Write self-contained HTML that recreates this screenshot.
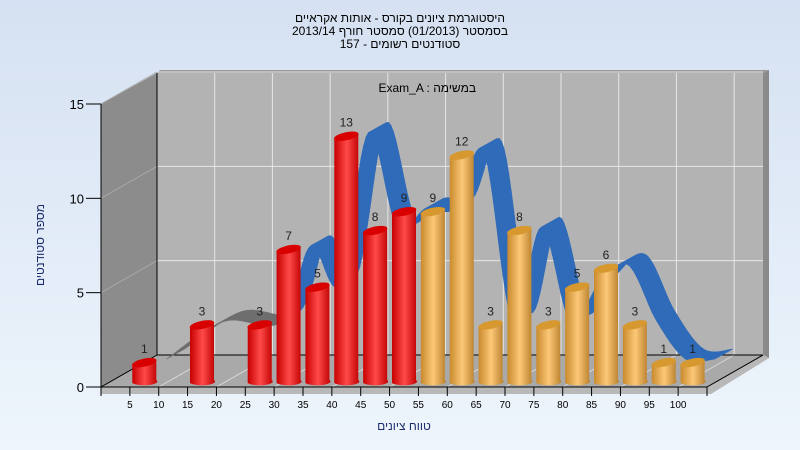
<!DOCTYPE html>
<html><head><meta charset="utf-8"><style>
body{margin:0;width:800px;height:450px;overflow:hidden;background:linear-gradient(#d5e1f2,#eef5fc);font-family:"Liberation Sans","Noto Sans CJK SC",sans-serif}
svg{display:block}
</style></head><body>
<svg id="chart" width="800" height="450">
<defs>
<linearGradient id="gr" x1="0" x2="1"><stop offset="0" stop-color="#c80000"/><stop offset="0.5" stop-color="#ff4a4a"/><stop offset="1" stop-color="#c00000"/></linearGradient>
<linearGradient id="go" x1="0" x2="1"><stop offset="0" stop-color="#c98a2c"/><stop offset="0.5" stop-color="#fcc878"/><stop offset="1" stop-color="#b9802c"/></linearGradient>
</defs>
<g font-size="12" text-anchor="middle" fill="#000">
<text x="400" y="22" direction="rtl">היסטוגרמת ציונים בקורס - אותות אקראיים</text>
<text x="400" y="35" direction="rtl">בסמסטר  (01/2013)  סמסטר חורף 2013/14</text>
<text x="400" y="48" direction="rtl">סטודנטים רשומים - 157</text>
</g>
<polygon points="763,73 769,70 769,358 763,355" fill="#8a8a8a"/>
<polygon points="157,73 160,70 769,70 763,73" fill="#9a9a9a"/>
<rect x="157" y="73" width="606" height="282" fill="#b3b3b3"/>
<polygon points="101,104 157,73 157,355 101,387" fill="#8c8c8c"/>
<polygon points="101,387 157,355 763,355 707,387" fill="#a9a9a9"/>
<polygon points="101,387 707,387 763,355 769,358 711,394 101,394" fill="#b8b8b8"/>
<g id="grid"></g>
<line x1="157" y1="73" x2="157" y2="355" stroke="#000"/>
<line x1="157" y1="355" x2="763" y2="355" stroke="#000"/>
<line x1="707" y1="387" x2="763" y2="355" stroke="#000"/>
<line x1="101" y1="387" x2="157" y2="355" stroke="#000"/>
<g id="curve"></g>
<g id="bars"></g>
<line x1="101" y1="104" x2="101" y2="387" stroke="#000"/>
<line x1="101" y1="387" x2="707" y2="387" stroke="#000"/>
<g id="axes" font-size="13" fill="#000"></g>
<text x="476" y="92" font-size="12" text-anchor="end" direction="ltr">Exam_A : במשימה</text>
<text transform="translate(44,245) rotate(-90)" font-size="12" text-anchor="middle" fill="#1a2a6a" direction="rtl">מספר סטודנטים</text>
<text x="404" y="430" font-size="12" text-anchor="middle" fill="#1a2a6a" direction="rtl">טווח ציונים</text>
</svg>
<script>
const bins=[0,5,10,15,20,25,30,35,40,45,50,55,60,65,70,75,80,85,90,95,100];
const counts=[0,1,0,3,0,3,7,5,13,8,9,9,12,3,8,3,5,6,3,1,1];
const yTicks=[0,5,10,15];
const xTickLabels=[5,10,15,20,25,30,35,40,45,50,55,60,65,70,75,80,85,90,95,100];
const passMark=55;

const NS="http://www.w3.org/2000/svg";
const X0=101,SLOT=606/21,Y0=387,YS=(387-104)/15,DX=56,DY=-32;
const xs=k=>X0+(k+0.5)*SLOT;
const ys=v=>Y0-v*YS;
function mk(tag,attrs,parent){const e=document.createElementNS(NS,tag);for(const k in attrs)e.setAttribute(k,attrs[k]);parent.appendChild(e);return e;}
const grid=document.getElementById('grid'),axes=document.getElementById('axes'),bars=document.getElementById('bars'),curve=document.getElementById('curve');
// grid
yTicks.forEach(t=>{if(t===0)return;
 const l=mk('line',{x1:157,x2:763,y1:ys(t)+DY,y2:ys(t)+DY,stroke:'#e6e6e6'},grid);
 
 
 const l2=mk('line',{x1:101,x2:157,y1:ys(t),y2:ys(t)+DY,stroke:'#a8a8a8'},grid);
 
 
});
for(let k=2;k<21;k+=2){const x=X0+k*SLOT;
 const l=mk('line',{x1:x+DX,x2:x+DX,y1:73,y2:355,stroke:'#e6e6e6'},grid);
 
 
 const f=mk('line',{x1:x,x2:x+DX,y1:Y0,y2:355,stroke:'#d8d8d8'},grid);
 
 
}
// y axis
yTicks.forEach(t=>{
 const tk=mk('line',{x1:86,x2:101,y1:ys(t),y2:ys(t),stroke:'#000'},axes);
 
 
 const tx=mk('text',{x:84,y:ys(t)+5,'text-anchor':'end'},axes);tx.textContent=t;
 
 
});
// x axis
xTickLabels.forEach(v=>{const x=X0+(v/5)*SLOT;
 const tk=mk('line',{x1:x,x2:x,y1:387,y2:396,stroke:'#000'},axes);
 
 
 const tx=mk('text',{x:x,y:408,'text-anchor':'middle','font-size':10},axes);tx.textContent=v;
 
 
});
{const tk=mk('line',{x1:707,x2:707,y1:387,y2:396,stroke:'#000'},axes);
 
 
 const t0=mk('line',{x1:101,x2:101,y1:387,y2:396,stroke:'#000'},axes);
 
 }
// curve: catmull-rom through non-zero counts
const pts=[];counts.forEach((c,k)=>{if(c>0)pts.push([xs(k),ys(c)+4,k]);});
function spline(off){const o=[];
 for(let i=0;i<pts.length-1;i++){const p0=pts[Math.max(0,i-1)],p1=pts[i],p2=pts[i+1],p3=pts[Math.min(pts.length-1,i+2)];
  for(let s=0;s<=12;s++){const t=s/12,t2=t*t,t3=t2*t;
   const f=(a,b,c,d)=>0.5*((2*b)+(-a+c)*t+(2*a-5*b+4*c-d)*t2+(-a+3*b-3*c+d)*t3);
   o.push([f(p0[0],p1[0],p2[0],p3[0])+off[0],f(p0[1],p1[1],p2[1],p3[1])+off[1],p1[2]]);}}
 return o;}
const A=spline([22,-13]),B=spline([40,-23]);
for(let i=0;i<A.length-1;i++){
 const gray=A[i][2]<5;
 const p=mk('polygon',{points:[A[i],A[i+1],B[i+1],B[i]].map(q=>q[0].toFixed(1)+','+q[1].toFixed(1)).join(' '),fill:gray?'#6e6e6e':'#2f6bb8',stroke:gray?'#6e6e6e':'#2f6bb8','stroke-width':0.6},curve);
 
 
}
// bars
const W=24,BASE=383;
counts.forEach((c,k)=>{if(c<=0)return;
 const cx=xs(k),x=cx-W/2,top=BASE-c*YS,orange=bins[k]>=passMark;
 const g=mk('g',{},bars);
 
 
 mk('path',{d:`M${x},${top} L${x},${BASE} A${W/2},3.5 0 0 0 ${x+W},${BASE-3} L${x+W},${top-3} Z`,fill:orange?'url(#go)':'url(#gr)'},g);
 mk('ellipse',{cx:cx,cy:top-1.5,rx:W/2+0.5,ry:4,transform:`rotate(-12 ${cx} ${top-1.5})`,fill:orange?'#d6982f':'#d80000'},g);
 const t=mk('text',{x:cx,y:top-11,'text-anchor':'middle','font-size':12,fill:'#222'},g);t.textContent=c;
 
 
});
</script>
</body></html>
